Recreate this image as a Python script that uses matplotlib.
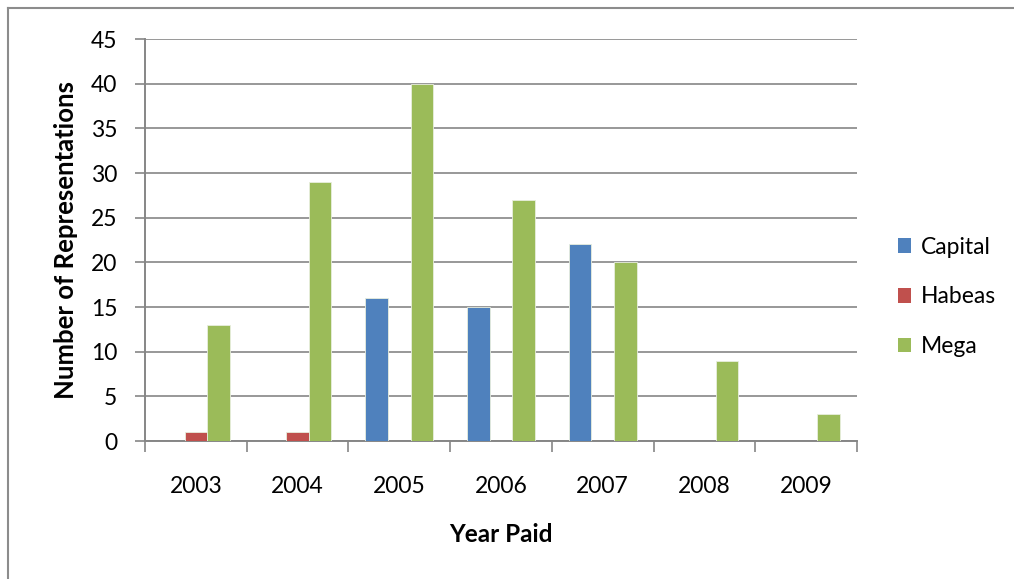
import matplotlib.pyplot as plt
import numpy as np
from matplotlib.lines import Line2D
from matplotlib.patches import Patch

plt.rcParams['font.family'] = ['Lato', 'DejaVu Sans']

years = ['2003', '2004', '2005', '2006', '2007', '2008', '2009']
capital = [0, 0, 16, 15, 22, 0, 0]
habeas = [1, 1, 0, 0, 0, 0, 0]
mega = [13, 29, 40, 27, 20, 9, 3]

series = [('Capital', capital, '#4F81BD'),
          ('Habeas', habeas, '#C0504D'),
          ('Mega', mega, '#9BBB59')]

fig = plt.figure(figsize=(10.14, 5.79), dpi=100)
ax = fig.add_axes([145 / 1014, 1 - 441 / 579, 712 / 1014, 402 / 579])

# Excel-style clustered bars: gap width 150%
x = np.arange(len(years))
bw = 1 / 4.5
for i, (name, vals, col) in enumerate(series):
    ax.bar(x + (i - 1) * bw, vals, width=bw, color=col, edgecolor='#e8eede',
           linewidth=0.6, label=name, zorder=3)

grid_col = '#868686'
ax.set_xlim(-0.5, len(years) - 0.5)
ax.set_ylim(0, 45)
ax.set_yticks(range(0, 46, 5))
ax.yaxis.grid(True, color=grid_col, linewidth=1.2, zorder=0)
ax.set_axisbelow(True)

ax.set_xticks(x)
ax.set_xticklabels(years)
ax.set_xticks(np.arange(-0.5, len(years)), minor=True)
ax.tick_params(axis='x', which='major', length=0, pad=25, labelsize=16.5)
ax.tick_params(axis='x', which='minor', length=8, width=1.2, color=grid_col,
               direction='out')
ax.tick_params(axis='y', length=7, width=1.2, color=grid_col, pad=13,
               labelsize=16.5)

for side in ['top', 'right']:
    ax.spines[side].set_visible(False)
for side in ['left', 'bottom']:
    ax.spines[side].set_color(grid_col)
    ax.spines[side].set_linewidth(1.4)

ax.set_xlabel('Year Paid', fontsize=17.5, fontweight='bold', labelpad=19)
ax.set_ylabel('Number of Representations', fontsize=18.5, fontweight='bold',
              labelpad=9)

handles = [Patch(facecolor=c, edgecolor='none') for _, _, c in series]
leg = fig.legend(handles, [s[0] for s in series], loc='center left',
                 bbox_to_anchor=(877 / 1014, 1 - 297 / 579), frameon=False,
                 fontsize=16.5, handlelength=0.6, handleheight=0.6,
                 handletextpad=0.4, labelspacing=1.25)

# outer chart frame
fig.add_artist(Line2D([8 / 1014, 8 / 1014], [0, 1 - 8 / 579], color='#8c8c8c',
                      linewidth=1.5, transform=fig.transFigure))
fig.add_artist(Line2D([8 / 1014, 1], [1 - 8 / 579, 1 - 8 / 579], color='#8c8c8c',
                      linewidth=1.5, transform=fig.transFigure))

fig.savefig('out.png', dpi=100)
